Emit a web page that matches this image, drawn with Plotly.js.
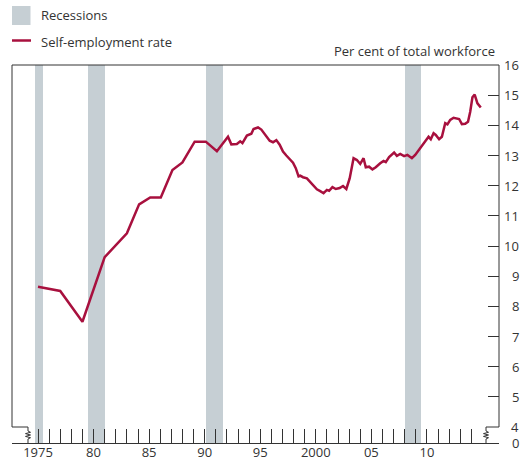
<!DOCTYPE html>
<html>
<head>
<meta charset="utf-8">
<script src="https://cdn.plot.ly/plotly-3.0.1.min.js"></script>
<style>html,body{margin:0;padding:0;background:#fff;}#chart{width:529px;height:467px;}</style>
</head>
<body>
<div id="chart"></div>
<script>
// ---- data ----
const years = [1975.0, 1977.0, 1979.0, 1981.0, 1983.0, 1984.1, 1985.1, 1986.05, 1987.1, 1988.0,
  1989.1, 1990.1, 1991.1, 1992.1, 1992.4, 1992.9, 1993.2, 1993.4, 1993.8, 1994.2,
  1994.4, 1994.8, 1995.1, 1995.85, 1996.15, 1996.45, 1996.75, 1997.05, 1997.35, 1997.65,
  1997.95, 1998.2, 1998.45, 1998.6, 1998.85, 1999.2, 1999.45, 1999.75, 2000.1, 2000.4,
  2000.7, 2001.0, 2001.2, 2001.5, 2001.8, 2002.15, 2002.45, 2002.75, 2003.05, 2003.4,
  2003.7, 2004.0, 2004.3, 2004.5, 2004.8, 2005.1, 2005.4, 2005.8, 2006.1, 2006.3,
  2006.6, 2007.05, 2007.3, 2007.6, 2007.95, 2008.25, 2008.65, 2008.95, 2009.4, 2009.7,
  2010.0, 2010.15, 2010.35, 2010.6, 2010.8, 2011.1, 2011.35, 2011.65, 2011.85, 2012.1,
  2012.4, 2012.7, 2012.9, 2013.15, 2013.45, 2013.7, 2013.9, 2014.1, 2014.3, 2014.55, 2014.85];
const rates = [8.65, 8.51, 7.49, 9.63, 10.42, 11.38, 11.61, 11.61, 12.52, 12.77,
  13.46, 13.46, 13.14, 13.62, 13.37, 13.38, 13.47, 13.41, 13.66, 13.72,
  13.88, 13.93, 13.86, 13.49, 13.44, 13.51, 13.36, 13.13, 13.00, 12.86,
  12.76, 12.58, 12.31, 12.33, 12.28, 12.24, 12.13, 12.02, 11.88, 11.82,
  11.75, 11.86, 11.83, 11.95, 11.89, 11.92, 11.99, 11.89, 12.24, 12.91,
  12.85, 12.72, 12.91, 12.61, 12.63, 12.54, 12.61, 12.74, 12.82, 12.78,
  12.95, 13.10, 12.99, 13.05, 12.98, 13.02, 12.91, 13.02, 13.24, 13.38,
  13.51, 13.62, 13.54, 13.74, 13.68, 13.54, 13.62, 14.07, 14.03, 14.18,
  14.25, 14.23, 14.21, 14.04, 14.05, 14.12, 14.45, 14.93, 15.02, 14.73, 14.59];
const recessionStart = [1974.73, 1979.5, 1990.12, 2008.03];
const recessionEnd   = [1975.45, 1981.03, 1991.65, 2009.47];
const xLabelYears = [1975, 1980, 1985, 1990, 1995, 2000, 2005, 2010];
const xTickLabels = ['1975', '80', '85', '90', '95', '2000', '05', '10'];
const yTickValues = [5, 6, 7, 8, 9, 10, 11, 12, 13, 14, 15, 16];
const yLabelValues = [4, 5, 6, 7, 8, 9, 10, 11, 12, 13, 14, 15, 16];
const yBreakLabel = '0';
const seriesName = 'Self-employment rate';
const recessionName = 'Recessions';
const unitLabel = 'Per cent of total workforce';

// ---- styling / layout ----
const LINE = '#a8103e', BAND = '#c6cfd4', INK = '#333333', FONT = 'Open Sans, Noto Sans, sans-serif';
const W = 529, H = 467, L = 12, R = 499, T = 65, B = 443;
const YMIN = 3.47, YMAX = 16;
const px = x => (x - L) / (R - L);
const py = y => (B - y) / (B - T);
const P = (x, y) => px(x).toFixed(5) + ',' + py(y).toFixed(5);

const tickYears = [];
for (let y = 1975; y <= 2014; y++) tickYears.push(y);
const tickText = tickYears.map(y => { const i = xLabelYears.indexOf(y); return i >= 0 ? xTickLabels[i] : ''; });

function zig(x, yTop) {
  const pts = [[x, yTop + 4], [x + 2.5, yTop + 5.3], [x - 2.5, yTop + 6.6], [x + 2.5, yTop + 8], [x - 2.5, yTop + 9.4], [x + 2.5, yTop + 10.7], [x, yTop + 12]];
  return pts.map(p => ' L' + P(p[0], p[1])).join('');
}
const y4 = T + (YMAX - 4) * (B - T) / (YMAX - YMIN);
const framePath = 'M' + P(28, B) + ' L' + P(28, y4 + 12) + zig(28, y4).split(' L').reverse().filter(s => s).map(s => ' L' + s).join('') +
  ' L' + P(28, y4) + ' L' + P(L, y4) + ' L' + P(L, T) + ' L' + P(R, T) + ' L' + P(R, y4) + ' L' + P(486, y4) + zig(486, y4) + ' L' + P(486, B);

const shapes = recessionStart.map((s, i) => ({
  type: 'rect', xref: 'x', yref: 'paper', x0: s, x1: recessionEnd[i], y0: 0, y1: 1,
  fillcolor: BAND, line: {width: 0}, layer: 'below'
}));
shapes.push({type: 'path', xref: 'paper', yref: 'paper', path: framePath, line: {color: INK, width: 1}});
// legend swatches
shapes.push({type: 'rect', xref: 'paper', yref: 'paper', x0: px(12), x1: px(30.5), y0: py(25), y1: py(6), fillcolor: BAND, line: {width: 0}});
shapes.push({type: 'line', xref: 'paper', yref: 'paper', x0: px(12), x1: px(31), y0: py(40.5), y1: py(40.5), line: {color: LINE, width: 2.5}});

const annotations = yLabelValues.map(v => ({
  xref: 'paper', yref: 'y', x: px(521), y: v, text: String(v), showarrow: false,
  xanchor: 'right', yanchor: 'middle', font: {family: FONT, size: 13, color: INK}
}));
annotations.push({xref: 'paper', yref: 'y', x: px(521), y: YMIN, text: yBreakLabel, showarrow: false,
  xanchor: 'right', yanchor: 'middle', font: {family: FONT, size: 13, color: INK}});
annotations.push({xref: 'paper', yref: 'paper', x: px(39), y: py(15), text: recessionName, showarrow: false,
  xanchor: 'left', yanchor: 'middle', font: {family: FONT, size: 13, color: INK}});
annotations.push({xref: 'paper', yref: 'paper', x: px(39), y: py(42), text: seriesName, showarrow: false,
  xanchor: 'left', yanchor: 'middle', font: {family: FONT, size: 13, color: INK}});
annotations.push({xref: 'paper', yref: 'paper', x: px(497), y: py(51.5), text: unitLabel, showarrow: false,
  xanchor: 'right', yanchor: 'middle', font: {family: FONT, size: 13, color: INK}});

const trace = {
  x: years, y: rates, type: 'scatter', mode: 'lines', name: seriesName,
  line: {color: LINE, width: 2.5}, hoverinfo: 'skip'
};

const layout = {
  width: W, height: H, margin: {l: L, r: W - R, t: T, b: H - B, pad: 0},
  paper_bgcolor: '#ffffff', plot_bgcolor: '#ffffff', showlegend: false,
  xaxis: {range: [1972.66, 2016.49], showgrid: false, zeroline: false, showline: true,
    linecolor: INK, linewidth: 1, ticks: 'inside', ticklen: 14, tickwidth: 1, tickcolor: INK,
    tickmode: 'array', tickvals: tickYears, ticktext: tickText, ticklabelstandoff: -3,
    tickfont: {family: FONT, size: 13, color: INK}, fixedrange: true},
  yaxis: {range: [YMIN, YMAX], side: 'right', showgrid: false, zeroline: false, showline: false,
    ticks: 'inside', ticklen: 11, tickwidth: 1, tickcolor: INK, tickmode: 'array', tickvals: yTickValues,
    showticklabels: false, fixedrange: true},
  shapes: shapes, annotations: annotations
};

Plotly.newPlot('chart', [trace], layout, {displayModeBar: false, staticPlot: true});
</script>
</body>
</html>
